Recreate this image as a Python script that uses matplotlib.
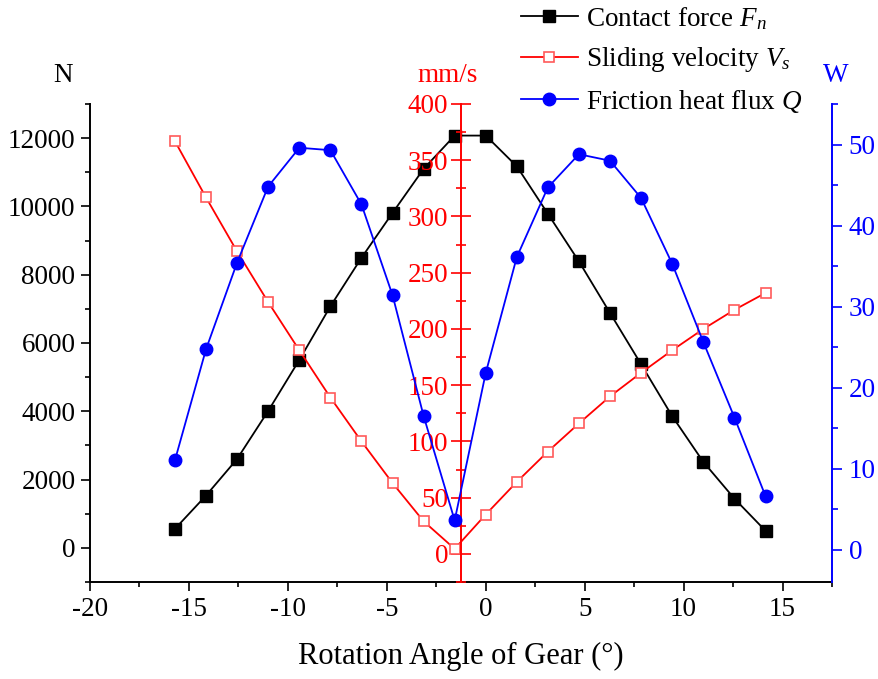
import matplotlib
matplotlib.use('Agg')
import matplotlib.pyplot as plt
from matplotlib.ticker import MultipleLocator

plt.rcParams['font.family'] = ['Liberation Serif', 'DejaVu Serif']
plt.rcParams['mathtext.fontset'] = 'custom'
plt.rcParams['mathtext.rm'] = 'Liberation Serif'
plt.rcParams['mathtext.it'] = 'Liberation Serif:italic'
plt.rcParams['axes.unicode_minus'] = False

# ---- data ----
angle = [-15.71, -14.14, -12.57, -11.00, -9.42, -7.85, -6.28, -4.71, -3.14, -1.57,
         0.00, 1.57, 3.14, 4.71, 6.28, 7.85, 9.42, 11.00, 12.57, 14.14]
contact_force = [555, 1530, 2600, 4005, 5505, 7075, 8495, 9810, 11100, 12075,
                 12075, 11175, 9785, 8390, 6880, 5380, 3860, 2515, 1440, 500]
sliding_velocity = [367, 317, 269, 224, 181, 139, 100, 63, 29, 4.5,
                    35, 64, 91, 116, 140, 161, 181, 200, 217, 232]
heat_flux = [11.0, 24.7, 35.4, 44.8, 49.6, 49.3, 42.6, 31.4, 16.5, 3.6,
             21.8, 36.1, 44.7, 48.8, 48.0, 43.4, 35.3, 25.6, 16.3, 6.6]

labels = ['Contact force $F_n$', 'Sliding velocity $V_s$', 'Friction heat flux $Q$']
xlabel = 'Rotation Angle of Gear (°)'

FS = 19.5
fig = plt.figure(figsize=(8.79, 6.79), dpi=100)
ax = fig.add_axes([90/879, 1-582/679, (832-90)/879, (582-104)/679])
ax2 = ax.twinx()
ax3 = ax.twinx()

RED = '#ff0000'
BLUE = '#0000ff'

# main (black) axis
l1, = ax.plot(angle, contact_force, color='black', lw=1.3, marker='s', ms=8,
              mfc='black', mec='black', zorder=3)
ax.set_xlim(-20, 17.5)
ax.set_ylim(-1000, 13000)
ax.xaxis.set_major_locator(MultipleLocator(5))
ax.xaxis.set_minor_locator(MultipleLocator(2.5))
ax.yaxis.set_major_locator(MultipleLocator(2000))
ax.yaxis.set_minor_locator(MultipleLocator(1000))
ax.set_yticks(range(0, 12001, 2000))
ax.spines['top'].set_visible(False)
ax.spines['right'].set_visible(False)
for s in ['left', 'bottom']:
    ax.spines[s].set_linewidth(1.4)
ax.tick_params(which='major', direction='out', length=6.5, width=1.2, labelsize=FS, pad=4)
ax.tick_params(which='minor', direction='out', length=3.5, width=1.2)
ax.set_xlabel(xlabel, fontsize=22, labelpad=15)

# red (middle) axis
l2, = ax2.plot(angle, sliding_velocity, color=RED, lw=1.3, marker='s', ms=7.5,
               mfc='white', mec='#ff5a5a', mew=1.2, zorder=2)
ax2.set_ylim(-25, 400)
ax2.yaxis.set_major_locator(MultipleLocator(50))
ax2.yaxis.set_minor_locator(MultipleLocator(25))
ax2.set_yticks(range(0, 401, 50))
ax2.spines['left'].set_position(('data', -1.27))
ax2.spines['left'].set_color(RED)
ax2.spines['left'].set_linewidth(1.4)
ax2.yaxis.set_ticks_position('left')
ax2.yaxis.set_label_position('left')
for s in ['right', 'top', 'bottom']:
    ax2.spines[s].set_visible(False)
ax2.tick_params(axis='y', which='major', direction='inout', length=14, width=1.2,
                colors=RED, labelsize=FS, pad=2)
ax2.tick_params(axis='y', which='minor', direction='inout', length=7, width=1.2, colors=RED)

# blue (right) axis
l3, = ax3.plot(angle, heat_flux, color=BLUE, lw=1.3, marker='o', ms=9,
               mfc=BLUE, mec=BLUE, zorder=4)
ax3.set_ylim(-4, 55)
ax3.yaxis.set_major_locator(MultipleLocator(10))
ax3.yaxis.set_minor_locator(MultipleLocator(5))
ax3.set_yticks(range(0, 51, 10))
for s in ['left', 'top', 'bottom']:
    ax3.spines[s].set_visible(False)
ax3.spines['right'].set_color(BLUE)
ax3.spines['right'].set_linewidth(1.4)
ax3.tick_params(axis='y', which='major', direction='out', length=7, width=1.2,
                colors=BLUE, labelsize=FS, pad=5)
ax3.tick_params(axis='y', which='minor', direction='out', length=4, width=1.2, colors=BLUE)

# unit labels
fig.text(63/879, 1-75/679, 'N', fontsize=FS, ha='center', va='center', color='black')
fig.text(448/879, 1-75/679, 'mm/s', fontsize=FS, ha='center', va='center', color=RED)
fig.text(836/879, 1-75/679, 'W', fontsize=FS, ha='center', va='center', color=BLUE)

fig.legend([l1, l2, l3], labels, loc='upper left', bbox_to_anchor=(521/879, 0.993),
           frameon=False, fontsize=FS, handlelength=2.1, handletextpad=0.3,
           labelspacing=0.5, borderpad=0, borderaxespad=0)

fig.savefig('out.png', dpi=100)
